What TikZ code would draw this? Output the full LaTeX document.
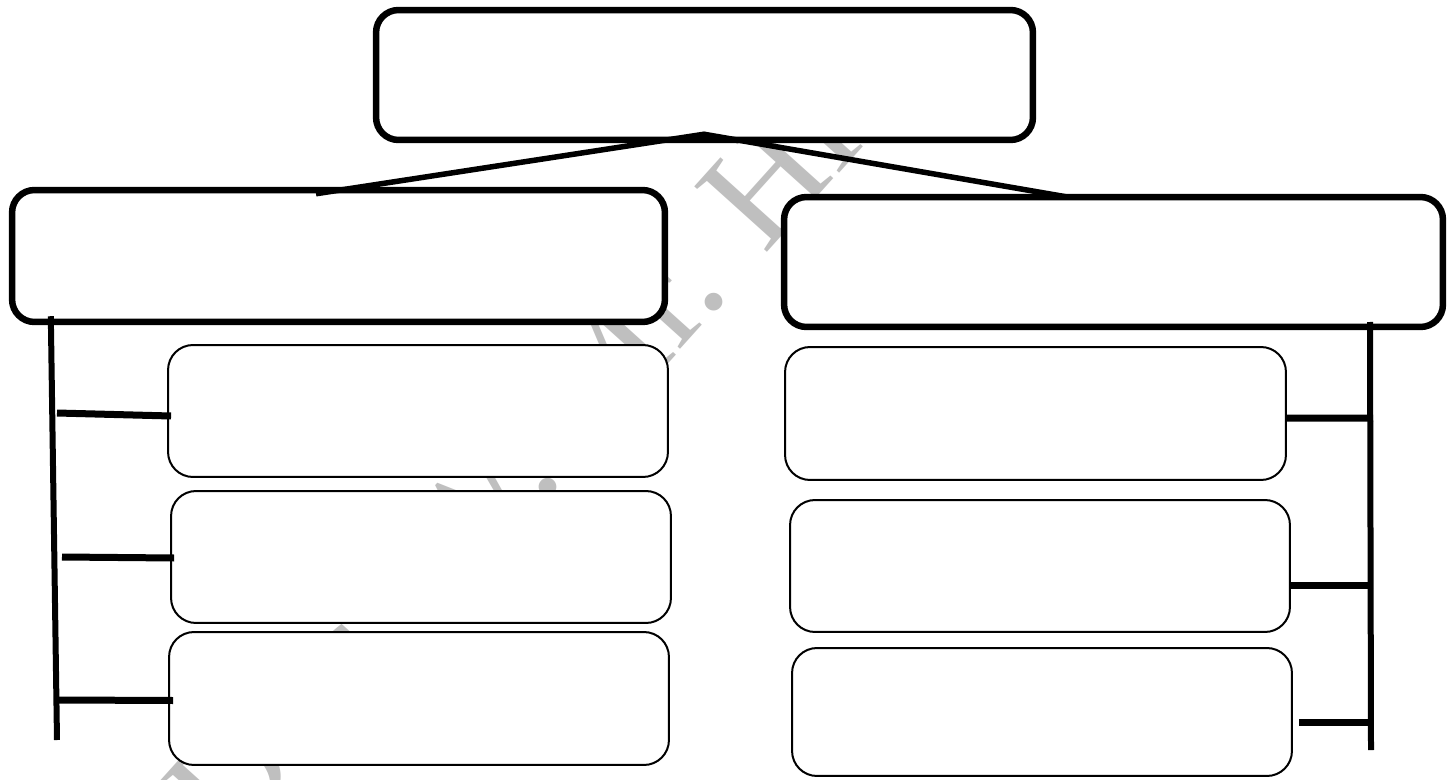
\documentclass[tikz,border=0pt]{standalone}
\usepackage{fontspec}
\setmainfont{Liberation Serif}
\usetikzlibrary{calc}
\begin{document}
\begin{tikzpicture}[x=0.02cm,y=-0.02cm,
  thickbox/.style={draw=black, fill=white, line width=0.13cm, rounded corners=0.45cm, inner sep=0pt},
  thinbox/.style={draw=black, fill=white, line width=0.04cm, rounded corners=0.5cm, inner sep=0pt},
  link/.style={line width=0.11cm, line cap=butt},
  bar/.style={line width=0.12cm, line cap=butt},
  tick/.style={line width=0.14cm, line cap=butt},
  wmark/.style={text=black!25, font=\fontsize{85}{85}\selectfont, inner sep=0pt}]
\useasboundingbox[fill=white] (0,0) rectangle (1453,780);
% watermark
\node[wmark, rotate=48, anchor=base west] (wm) at (230,850) {Doc. W. Mr. Hill};
% boxes
\node[thickbox, minimum width=13.14cm, minimum height=2.6cm] (top) at (704.5,75) {};
\node[thickbox, minimum width=13.06cm, minimum height=2.64cm] (lbig) at (338.5,256) {};
\node[thickbox, minimum width=13.18cm, minimum height=2.6cm] (rbig) at (1113.5,262) {};
\node[thinbox, minimum width=10cm, minimum height=2.64cm] (l1) at (418,411) {};
\node[thinbox, minimum width=10cm, minimum height=2.64cm] (l2) at (421,557) {};
\node[thinbox, minimum width=10cm, minimum height=2.66cm] (l3) at (419,698.5) {};
\node[thinbox, minimum width=10.02cm, minimum height=2.66cm] (r1) at (1035.5,413.5) {};
\node[thinbox, minimum width=10cm, minimum height=2.64cm] (r2) at (1040,566) {};
\node[thinbox, minimum width=10cm, minimum height=2.56cm] (r3) at (1042,712) {};
% top connectors
\coordinate (apex) at ($(top.south)+(-0.5,-9)$);
\coordinate (lend) at ($(lbig.north)+(-22.5,7)$);
\coordinate (rend) at ($(rbig.north)+(-47.5,3)$);
\draw[link] (lend) -- (apex) -- (rend);
% left bar
\coordinate (lbt) at ($(lbig.south west)+(42,-9)$);
\coordinate (lbb) at (57,740);
\draw[bar] (lbt) -- (lbb);
\coordinate (lt1) at (57,413);
\coordinate (lt2) at (62,557);
\coordinate (lt3) at (59,700);
\draw[tick] (lt1) -- ($(l1.west)+(4,5)$);
\draw[tick] (lt2) -- ($(l2.west)+(4,1)$);
\draw[tick] (lt3) -- ($(l3.west)+(5,2)$);
% right bar
\coordinate (rbt) at (1370,322);
\coordinate (rbb) at (1371,750);
\draw[bar] (rbt) -- (rbb);
\coordinate (rt1) at (1373,418);
\coordinate (rt2) at (1373,585);
\coordinate (rt3) at (1373,722);
\draw[tick] (rt1) -- ($(r1.east)+(-1,4.5)$);
\draw[tick] (rt2) -- ($(r2.east)+(0,19)$);
\draw[tick] (rt3) -- ($(r3.east)+(6,10)$);
\end{tikzpicture}
\end{document}
